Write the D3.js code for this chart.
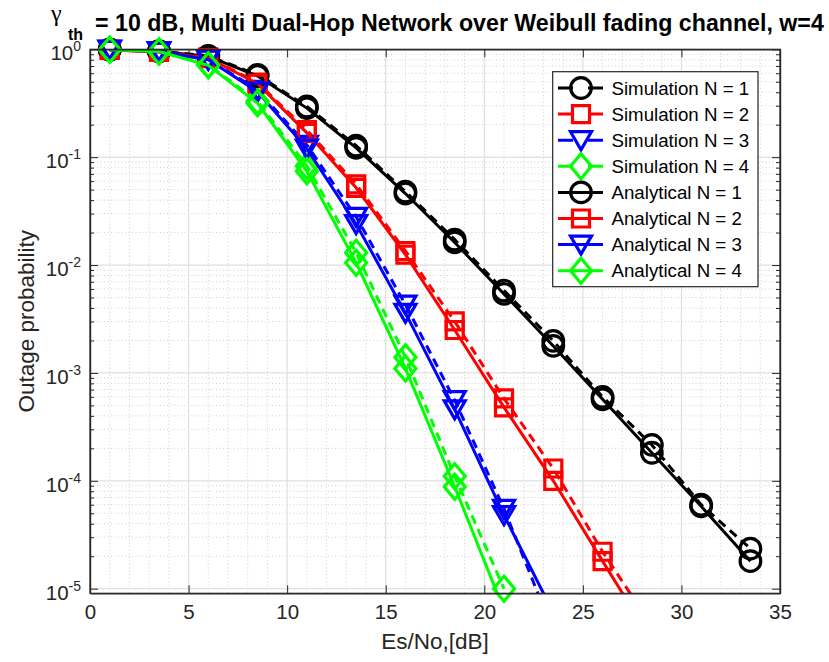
<!DOCTYPE html>
<html><head><meta charset="utf-8">
<script src="https://cdn.jsdelivr.net/npm/d3@7"></script>
<style>
body{margin:0;background:#fff}
svg{display:block;font-family:"Liberation Sans",Arial,Helvetica,sans-serif}
</style>
</head><body>
<svg id="chart" width="829" height="662"></svg>
<script>
// ---------------- data ----------------
const xValues = [1, 3.5, 6, 8.5, 11, 13.5, 16, 18.5, 21, 23.5, 26, 28.5, 31, 33.5];
const simN1 = [0.995, 0.96, 0.87, 0.58, 0.295, 0.128, 0.048, 0.0172, 0.0058, 0.00198, 6.0e-4, 2.15e-4, 6.0e-5, 2.35e-5];
const simN2 = [0.99, 0.95, 0.84, 0.49, 0.178, 0.056, 0.0135, 0.0030, 5.8e-4, 1.3e-4, 2.2e-5, 4.5e-6];
const simN3 = [0.995, 0.96, 0.81, 0.42, 0.13, 0.028, 0.0043, 5.6e-4, 5.5e-5, 4.0e-6];
const simN4 = [0.995, 0.96, 0.72, 0.33, 0.083, 0.013, 0.0014, 1.1e-4, 1.0e-5];
const anaN1 = [0.99, 0.955, 0.86, 0.565, 0.285, 0.122, 0.046, 0.0162, 0.0054, 0.00178, 5.7e-4, 1.82e-4, 5.8e-5, 1.8e-5];
const anaN2 = [0.985, 0.945, 0.83, 0.48, 0.168, 0.052, 0.0125, 0.0025, 4.8e-4, 1.0e-4, 1.8e-5, 3.3e-6];
const anaN3 = [0.99, 0.955, 0.80, 0.405, 0.12, 0.024, 0.0036, 4.6e-4, 4.8e-5, 6.0e-6];
const anaN4 = [0.99, 0.955, 0.71, 0.316, 0.074, 0.0105, 0.0011, 8.8e-5, 6.3e-6];
const legendLabels = ["Simulation N = 1","Simulation N = 2","Simulation N = 3","Simulation N = 4",
                      "Analytical N = 1","Analytical N = 2","Analytical N = 3","Analytical N = 4"];
const xTicks = [0, 5, 10, 15, 20, 25, 30, 35];
const yTickExp = [0, -1, -2, -3, -4, -5];
const titleMain = "= 10 dB, Multi Dual-Hop Network over Weibull fading channel, w=4";
const xLabel = "Es/No,[dB]";
const yLabel = "Outage probability";

// ---------------- setup ----------------
const svg = d3.select("#chart");
const L = 90, R = 780, T = 49.3, B = 593.3;
const x = d3.scaleLinear().domain([0, 35]).range([L, R]);
const y = d3.scaleLog().domain([9.06e-6, 1]).range([B, T]);
const axisColor = "#262626";
const LW = 3, MW = 3.2;

const colors = ["#000000", "#ff0000", "#0000ff", "#00ff00"];
const markers = ["circle", "square", "triangle", "diamond"];
const series = [simN1, simN2, simN3, simN4, anaN1, anaN2, anaN3, anaN4].map((vals, i) => ({
  label: legendLabels[i], values: vals, color: colors[i % 4], marker: markers[i % 4], dashed: i < 4
}));

svg.append("rect").attr("width", 829).attr("height", 662).attr("fill", "#fff");

// ---------------- grid ----------------
const minorX = d3.range(1, 35).filter(v => v % 5 !== 0);
const majorX = [5, 10, 15, 20, 25, 30];
const minorY = [];
for (let e = -6; e <= -1; e++) for (let k = 2; k <= 9; k++) { const v = k * Math.pow(10, e); if (v > 9.06e-6 && v < 1) minorY.push(v); }
const majorY = yTickExp.map(e => Math.pow(10, e)).filter(v => v < 1);

const grid = svg.append("g");
grid.selectAll(".mnx").data(minorX).join("line")
  .attr("x1", d => x(d)).attr("x2", d => x(d)).attr("y1", T).attr("y2", B)
  .attr("stroke", "#cfcfcf").attr("stroke-width", 1).attr("stroke-dasharray", "1,2.5");
grid.selectAll(".mny").data(minorY).join("line")
  .attr("x1", L).attr("x2", R).attr("y1", d => y(d)).attr("y2", d => y(d))
  .attr("stroke", "#cfcfcf").attr("stroke-width", 1).attr("stroke-dasharray", "1,2.5");
grid.selectAll(".mjx").data(majorX).join("line")
  .attr("x1", d => x(d)).attr("x2", d => x(d)).attr("y1", T).attr("y2", B)
  .attr("stroke", "#dfdfdf").attr("stroke-width", 1.2);
grid.selectAll(".mjy").data(majorY).join("line")
  .attr("x1", L).attr("x2", R).attr("y1", d => y(d)).attr("y2", d => y(d))
  .attr("stroke", "#dfdfdf").attr("stroke-width", 1.2);

// ---------------- series ----------------
svg.append("clipPath").attr("id", "plotclip").append("rect")
  .attr("x", L).attr("y", T).attr("width", R - L).attr("height", B - T);

function markerPath(type) {
  switch (type) {
    case "square": return "M-8.5,-8.5H8.5V8.5H-8.5Z";
    case "triangle": return "M-10.5,-8.5L10.5,-8.5L0,9.5Z";
    case "diamond": return "M0,-12.5L10.5,0L0,12.5L-10.5,0Z";
    default: return "";
  }
}
function drawMarker(g, type, color) {
  if (type === "circle") {
    g.append("circle").attr("r", 10.3).attr("fill", "none").attr("stroke", color).attr("stroke-width", MW);
  } else {
    g.append("path").attr("d", markerPath(type)).attr("fill", "none").attr("stroke", color)
      .attr("stroke-width", MW).attr("stroke-linejoin", "miter");
  }
}

const line = d3.line().x(d => x(d[0])).y(d => y(d[1]));
series.forEach(s => {
  const pts = s.values.map((v, i) => [xValues[i], v]);
  const g = svg.append("g");
  g.append("path").attr("d", line(pts)).attr("clip-path", "url(#plotclip)")
    .attr("fill", "none").attr("stroke", s.color).attr("stroke-width", LW)
    .attr("stroke-dasharray", s.dashed ? "9,6" : null);
  pts.filter(p => p[1] >= 9.06e-6).forEach(p => {
    const mg = g.append("g").attr("transform", `translate(${x(p[0])},${y(p[1])})`);
    drawMarker(mg, s.marker, s.color);
  });
});

// ---------------- axes ----------------
function styleAxis(g) {
  g.selectAll("path.domain").attr("stroke", axisColor).attr("stroke-width", 1.2);
  g.selectAll(".tick line").attr("stroke", axisColor).attr("stroke-width", 1);
}
const gxB = svg.append("g").attr("transform", `translate(0,${B})`)
  .call(d3.axisBottom(x).tickValues(xTicks).tickSizeInner(-8).tickSizeOuter(0).tickPadding(11).tickFormat(d3.format("d")));
gxB.selectAll("text").attr("font-size", 20.5).attr("fill", axisColor).attr("font-family", "Liberation Sans, Arial, sans-serif");
styleAxis(gxB);
const gxT = svg.append("g").attr("transform", `translate(0,${T})`)
  .call(d3.axisTop(x).tickValues(xTicks).tickSizeInner(-8).tickSizeOuter(0).tickFormat(""));
styleAxis(gxT);

const gyL = svg.append("g").attr("transform", `translate(${L},0)`)
  .call(d3.axisLeft(y).tickValues(majorY.concat([1])).tickSizeInner(-8).tickSizeOuter(0).tickFormat(""));
styleAxis(gyL);
const gyLm = svg.append("g").attr("transform", `translate(${L},0)`)
  .call(d3.axisLeft(y).tickValues(minorY).tickSizeInner(-4).tickSizeOuter(0).tickFormat(""));
styleAxis(gyLm);
const gyR = svg.append("g").attr("transform", `translate(${R},0)`)
  .call(d3.axisRight(y).tickValues(majorY.concat([1])).tickSizeInner(-8).tickSizeOuter(0).tickFormat(""));
styleAxis(gyR);
const gyRm = svg.append("g").attr("transform", `translate(${R},0)`)
  .call(d3.axisRight(y).tickValues(minorY).tickSizeInner(-4).tickSizeOuter(0).tickFormat(""));
styleAxis(gyRm);

svg.append("rect").attr("x", L).attr("y", T).attr("width", R - L).attr("height", B - T)
  .attr("fill", "none").attr("stroke", axisColor).attr("stroke-width", 1.2);

// y tick labels with superscripts
yTickExp.forEach(e => {
  const t = svg.append("text").attr("x", 81).attr("y", y(Math.pow(10, e)) + 11)
    .attr("text-anchor", "end").attr("fill", axisColor).attr("font-size", 20.5);
  t.append("tspan").text("10");
  t.append("tspan").attr("dy", -9).attr("font-size", 14).text(String(e));
});

// axis labels
svg.append("text").attr("x", (L + R) / 2).attr("y", 649).attr("text-anchor", "middle")
  .attr("font-size", 22.5).attr("fill", axisColor).text(xLabel);
svg.append("text").attr("transform", `translate(34,${(T + B) / 2}) rotate(-90)`).attr("text-anchor", "middle")
  .attr("font-size", 22.5).attr("fill", axisColor).text(yLabel);

// title
svg.append("text").attr("x", 51).attr("y", 21).attr("font-family", "Liberation Serif, serif")
  .attr("font-size", 24).attr("fill", "#000").text("γ");
svg.append("text").attr("x", 68).attr("y", 40).attr("font-weight", "bold")
  .attr("font-size", 16).attr("fill", "#000").text("th");
svg.append("text").attr("x", 95).attr("y", 31).attr("font-weight", "bold")
  .attr("font-size", 23.2).attr("fill", "#000").text(titleMain);

// ---------------- legend ----------------
const lg = svg.append("g");
lg.append("rect").attr("x", 552.7).attr("y", 71.7).attr("width", 205.3).attr("height", 215)
  .attr("fill", "#fff").attr("stroke", axisColor).attr("stroke-width", 1.2);
series.forEach((s, i) => {
  const cy = 88 + i * 26.1;
  lg.append("line").attr("x1", 558).attr("x2", 603).attr("y1", cy).attr("y2", cy)
    .attr("stroke", s.color).attr("stroke-width", LW)
    .attr("stroke-dasharray", s.dashed ? "15,15" : null);
  const mg = lg.append("g").attr("transform", `translate(581,${cy})`);
  drawMarker(mg, s.marker, s.color);
  lg.append("text").attr("x", 611.5).attr("y", cy).attr("dy", "0.36em")
    .attr("font-size", 18.7).attr("fill", "#000").text(s.label);
});
</script>
</body></html>
